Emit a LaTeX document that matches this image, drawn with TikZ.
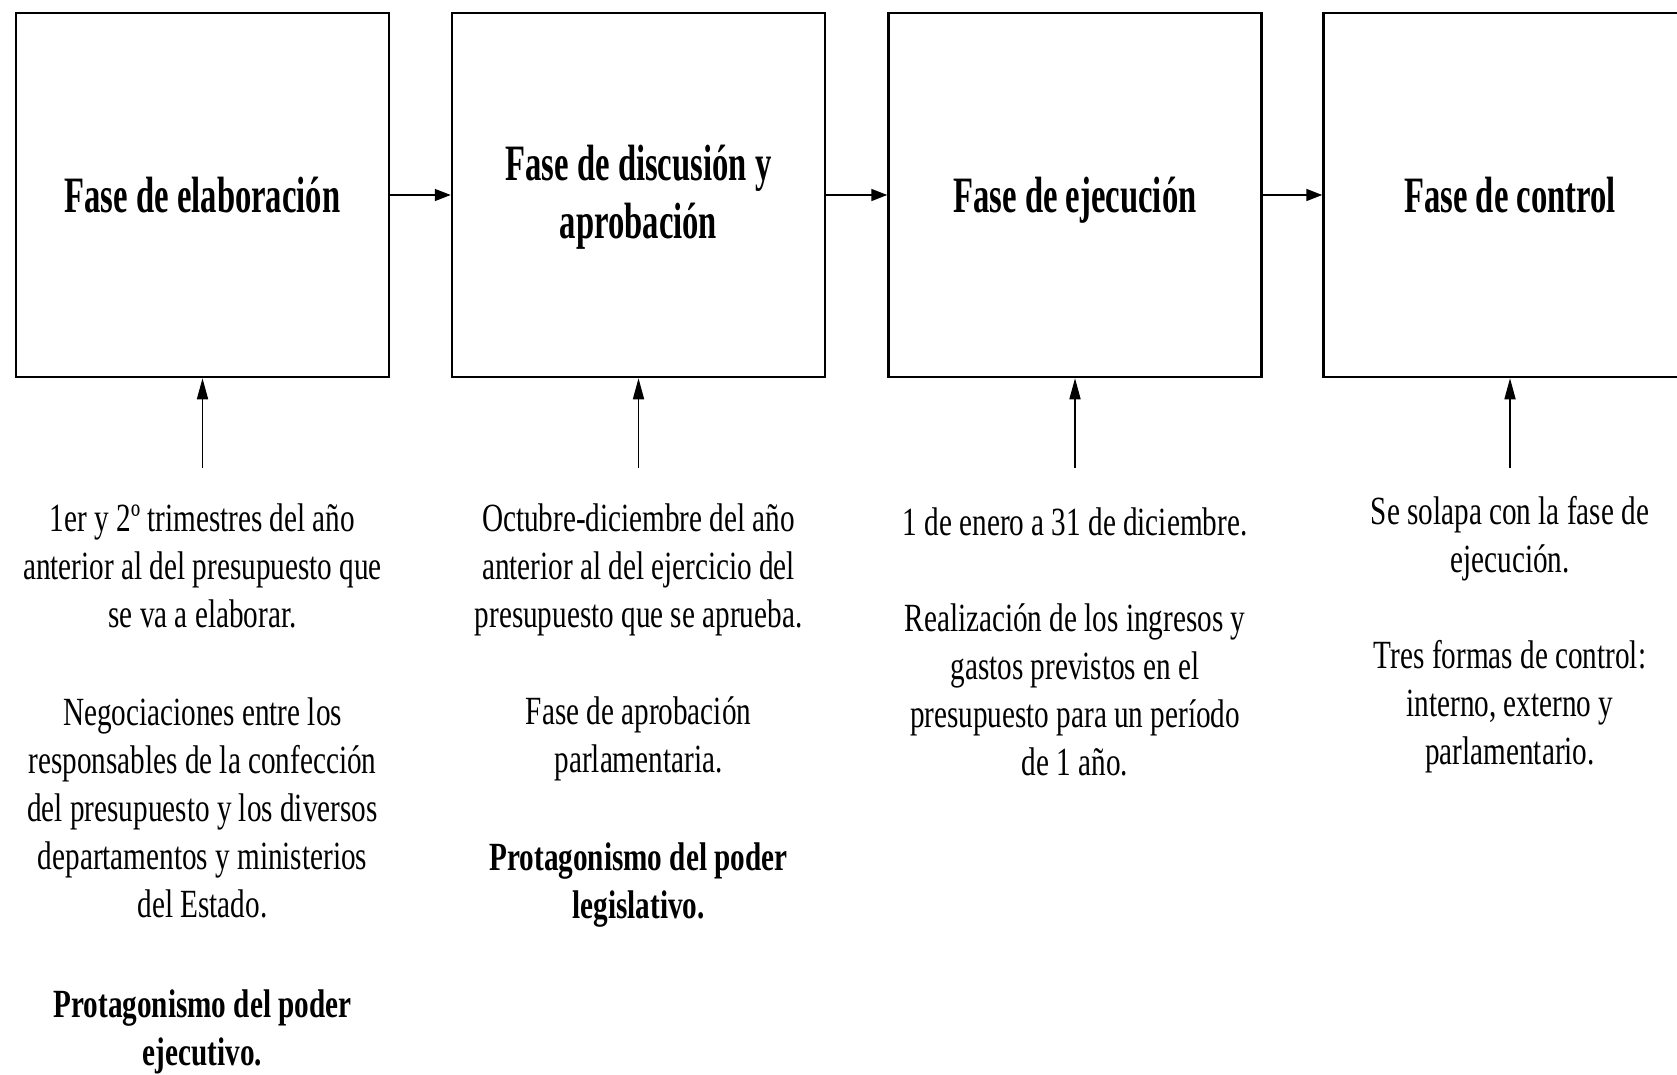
\documentclass[tikz,border=0pt]{standalone}
\usepackage{fontspec}
\setmainfont{Liberation Serif}[FakeStretch=0.73]
\newfontfamily\titlefont{Liberation Serif}[FakeStretch=0.64]
\usetikzlibrary{arrows.meta}
\newcommand\firststrut{\rule{0pt}{30pt}}
\newcommand\titlestrut{\rule{0pt}{40pt}}
\tikzset{
  phase/.style={draw, line width=2.5pt, minimum width=373pt, minimum height=364pt, inner sep=0pt},
  phasetitle/.style={align=center, inner sep=0pt, font=\titlefont\bfseries\fontsize{51}{58}\selectfont},
  harrow/.style={line width=1.6pt, -{Triangle[length=16pt,width=12pt]}},
  varrow/.style={line width=1.6pt, -{Triangle[length=21pt,width=11pt]}},
  desc/.style={align=center, inner sep=0pt, anchor=north, font=\fontsize{40}{48}\selectfont},
}
\begin{document}
\begin{tikzpicture}[x=1pt,y=-1pt]
\useasboundingbox (0,0) rectangle (1677,1075);
\clip (0,0) rectangle (1677,1075);
\node[phase] (b1) at (202.5,195) {};
\node[phase] (b2) at (638.5,195) {};
\node[phase] (b3) at (1075,195) {};
\node[phase] (b4) at (1510,195) {};
\node[phasetitle, anchor=base] (h1) at (202.5,213) {Fase de elaboración};
\node[phasetitle, anchor=north] (h2) at (638.5,140) {\titlestrut Fase de discusión y\\aprobación};
\node[phasetitle, anchor=base] (h3) at (1075,213) {Fase de ejecución};
\node[phasetitle, anchor=base] (h4) at (1510,213) {Fase de control};
\draw[harrow] (b1.east) -- (b2.west);
\draw[harrow] (b2.east) -- (b3.west);
\draw[harrow] (b3.east) -- (b4.west);
\coordinate (s1) at (202.5,468);
\coordinate (s2) at (638.5,468);
\coordinate (s3) at (1075,468);
\coordinate (s4) at (1510,468);
\draw[varrow] (s1) -- (b1.south);
\draw[varrow] (s2) -- (b2.south);
\draw[varrow] (s3) -- (b3.south);
\draw[varrow] (s4) -- (b4.south);
\node[desc] (t1) at (202.5,501) {\firststrut 1er y 2º trimestres del año\\
anterior al del presupuesto que\\
se va a elaborar.\\[50pt]
Negociaciones entre los\\
responsables de la confección\\
del presupuesto y los diversos\\
departamentos y ministerios\\
del Estado.\\[52pt]
\textbf{Protagonismo del poder}\\
\textbf{ejecutivo.}};
\node[desc] (t2) at (638.5,501) {\firststrut Octubre-diciembre del año\\
anterior al del ejercicio del\\
presupuesto que se aprueba.\\[49pt]
Fase de aprobación\\
parlamentaria.\\[50pt]
\textbf{Protagonismo del poder}\\
\textbf{legislativo.}};
\node[desc] (t3) at (1075,505) {\firststrut 1 de enero a 31 de diciembre.\\[48pt]
Realización de los ingresos y\\
gastos previstos en el\\
presupuesto para un período\\
de 1 año.};
\node[desc] (t4) at (1510,494) {\firststrut Se solapa con la fase de\\
ejecución.\\[48pt]
Tres formas de control:\\
interno, externo y\\
parlamentario.};
\end{tikzpicture}
\end{document}
